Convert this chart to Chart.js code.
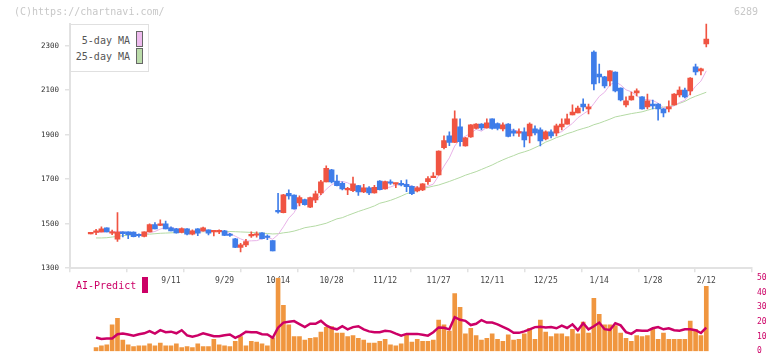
<!DOCTYPE html>
<html><head><meta charset="utf-8">
<script src="https://cdn.jsdelivr.net/npm/chart.js@4"></script>
<style>
html,body{margin:0;padding:0;background:#fff;width:772px;height:361px;overflow:hidden;}
#wrap{position:relative;width:772px;height:361px;}
canvas{position:absolute;left:0;}
#pc{top:0;}
#vc{top:268px;}
.t{position:absolute;font-family:"DejaVu Sans Mono",monospace;white-space:nowrap;line-height:12px;}
</style></head>
<body><div id="wrap">
<canvas id="pc" width="772" height="290"></canvas>
<canvas id="vc" width="772" height="93"></canvas>
<div class="t" style="left:14px;top:6px;font-size:10px;color:#c8c8c8">(C)https://chartnavi.com/</div>
<div class="t" style="left:734px;top:6px;font-size:10px;color:#c8c8c8">6289</div>
<div style="position:absolute;left:70px;top:24px;width:77px;height:46px;border:1px solid #e0e0e0;background:#fff;"></div>
<div class="t" style="right:642px;top:35px;font-size:10px;color:#555;text-align:right">5-day MA</div>
<div class="t" style="right:642px;top:51px;font-size:10px;color:#555;text-align:right">25-day MA</div>
<div style="position:absolute;left:136px;top:31px;width:5px;height:14px;border:1px solid #666;background:#eebbee"></div>
<div style="position:absolute;left:136px;top:48px;width:5px;height:14px;border:1px solid #666;background:#bbdcaa"></div>
<div class="t" style="left:76px;top:280px;font-size:10px;color:#cc0066">AI-Predict</div>
<div style="position:absolute;left:142px;top:277px;width:6px;height:16px;background:#cc0066"></div>
</div>
<script>
const dateLabels = ['9/11','9/29','10/14','10/28','11/12','11/27','12/11','12/25','1/14','1/28','2/12'];
const dateIndex  = [15,25,35,45,55,65,75,85,95,105,115];
const yTicks = [1300,1500,1700,1900,2100,2300];
const volTicks = [0,10,20,30,40,50];

const open = [1454,1461,1463,1481,1457,1430,1463,1463,1462,1452,
1443,1463,1496,1492,1500,1481,1477,1461,1477,1453,
1477,1468,1472,1463,1463,1468,1451,1432,1393,1405,
1445,1448,1459,1442,1424,1557,1550,1637,1629,1593,
1608,1574,1607,1638,1688,1742,1692,1682,1652,1649,
1671,1643,1661,1638,1692,1656,1688,1678,1682,1677,
1668,1647,1652,1689,1707,1719,1842,1895,1865,1935,
1850,1890,1928,1948,1931,1971,1950,1926,1948,1917,
1907,1913,1895,1926,1922,1881,1913,1908,1935,1948,
1989,1998,2038,2016,2272,2173,2160,2142,2182,2110,
2034,2056,2088,2070,2025,2038,2038,2016,2016,2034,
2079,2101,2097,2205,2187,2308];
const high = [1455,1475,1486,1481,1471,1550,1463,1463,1463,1455,
1463,1500,1505,1517,1512,1486,1479,1481,1478,1472,
1478,1485,1473,1468,1472,1470,1457,1434,1412,1430,
1463,1463,1460,1450,1424,1637,1632,1652,1630,1625,
1611,1620,1647,1695,1760,1745,1719,1688,1664,1710,
1673,1677,1667,1673,1694,1692,1697,1683,1694,1697,
1670,1667,1680,1712,1730,1828,1895,1913,2007,1971,
1888,1946,1950,1950,1971,1972,1954,1953,1950,1925,
1926,1931,1953,1940,1931,1917,1922,1948,1971,1993,
2034,2029,2061,2038,2277,2218,2162,2188,2183,2111,
2070,2092,2106,2071,2083,2056,2040,2017,2052,2085,
2115,2110,2157,2218,2200,2398];
const low = [1454,1451,1463,1463,1451,1420,1441,1433,1441,1440,
1441,1463,1477,1491,1477,1468,1457,1459,1450,1450,
1446,1466,1450,1445,1455,1446,1443,1392,1373,1397,
1438,1440,1432,1428,1378,1547,1548,1610,1565,1580,
1583,1572,1595,1631,1688,1683,1670,1652,1630,1644,
1627,1640,1630,1637,1652,1655,1677,1662,1670,1644,
1631,1643,1649,1677,1707,1718,1836,1851,1864,1848,
1848,1888,1926,1922,1929,1925,1922,1917,1890,1895,
1892,1845,1863,1899,1850,1877,1886,1895,1922,1948,
1989,1998,2007,1993,2101,2133,2110,2119,2092,2052,
2025,2055,2074,2015,2016,2016,1966,1980,2002,2033,
2070,2065,2079,2169,2169,2295];
const close = [1455,1468,1477,1463,1460,1462,1455,1451,1442,1446,
1463,1496,1477,1500,1477,1468,1459,1478,1453,1468,
1457,1482,1457,1467,1466,1447,1447,1393,1405,1420,
1450,1453,1433,1438,1378,1553,1630,1625,1566,1617,
1586,1617,1634,1688,1749,1688,1671,1656,1655,1679,
1643,1661,1638,1664,1653,1689,1682,1682,1674,1667,
1635,1661,1679,1703,1710,1827,1874,1865,1971,1869,
1886,1944,1948,1931,1954,1928,1928,1944,1892,1907,
1913,1877,1948,1908,1872,1913,1895,1940,1948,1971,
2002,2020,2025,2025,2128,2160,2119,2187,2097,2056,
2052,2074,2097,2016,2052,2029,2016,1998,2025,2083,
2101,2070,2155,2182,2196,2330];
const ma5 = [null,1460,1462,1464,1465,1466,1463,1458,1454,1451,
1451,1460,1465,1476,1483,1484,1476,1476,1467,1465,
1463,1468,1463,1466,1466,1464,1457,1444,1432,1422,
1423,1424,1432,1439,1430,1451,1486,1525,1550,1598,
1605,1602,1604,1628,1655,1675,1686,1690,1684,1670,
1661,1659,1655,1657,1652,1661,1665,1674,1676,1679,
1668,1664,1663,1669,1678,1716,1759,1796,1849,1881,
1893,1907,1924,1916,1933,1941,1938,1937,1929,1920,
1917,1907,1907,1911,1904,1904,1907,1906,1914,1933,
1951,1976,1993,2009,2040,2072,2091,2124,2138,2124,
2102,2093,2075,2059,2058,2054,2042,2022,2024,2030,
2045,2055,2087,2118,2141,2187];
const ma25 = [null,1436,1436,1437,1440,1443,1446,1448,1450,1451,
1452,1453,1455,1457,1458,1459,1460,1461,1462,1463,
1463,1464,1464,1465,1465,1465,1465,1464,1463,1462,
1461,1459,1457,1456,1454,1455,1459,1462,1467,1474,
1482,1486,1490,1496,1502,1512,1522,1527,1537,1546,
1555,1563,1571,1580,1592,1598,1605,1614,1624,1635,
1642,1650,1659,1663,1669,1674,1682,1690,1699,1708,
1718,1726,1734,1744,1754,1764,1776,1787,1797,1806,
1816,1823,1831,1842,1853,1867,1876,1887,1895,1905,
1912,1921,1928,1935,1945,1952,1961,1970,1980,1985,
1990,1995,1999,2003,2010,2017,2021,2024,2027,2033,
2041,2050,2063,2073,2082,2091];
const volume = [null,2.5,3.7,4.4,18,22.4,7.5,4.4,3.1,3.7,
3.7,5,3.7,5.6,3.7,3.7,5,2.5,3.1,2.5,
5,3.1,3.1,8.1,4.4,3.7,3.1,6.8,10,3.7,
6.8,6.2,5,3.7,9.1,49.8,31.3,18,10,10,
7.5,8.7,9.3,13.1,16.2,16.8,12.4,12.4,10,10.6,
8.7,7.5,5.6,5.6,6.8,8.1,4.4,3.7,5,11.2,
6.2,8.1,6.8,6.8,7.5,21.2,18,13.7,39.2,29.9,
11.8,15.6,10.6,7.5,8.7,11.8,8.1,6.8,11.2,7.5,
8.1,11.8,15.6,8.1,21.2,13.1,10,11.8,11.8,10,
14.9,11.8,19.9,12.4,36.1,25.1,18,18,17.4,12.4,
8.7,6.8,10.6,10,10.6,14.9,8.1,12.4,8.1,8.1,
8.1,8.1,20.5,14.9,10.6,44.2];
const aiPredict = [null,9.3,8.3,8.7,8.7,11.6,12,11.4,10.6,11.6,
12.2,13.7,12,14.3,12.9,13.3,12.2,14.3,10.8,9.8,
10.8,12.2,11.2,10.2,10.2,10.8,11.4,9.1,10.8,13.3,
12.9,12.9,11.6,11.4,9.1,16,19.5,20.1,20.5,18.5,
16.4,18.7,18.7,20.7,17.6,15.8,14.9,17,14.9,16.4,
17,14.9,13.5,12.9,12.9,13.9,13.5,12,10.6,11.8,
11.8,11.8,11.2,10.6,12.9,16.2,16,14.9,23.2,21.4,
20.7,17.8,18.7,21.2,19.5,19.5,18.3,16.6,14.9,12.5,
12.5,13.5,14.9,16.4,16.6,16.2,16.4,15.6,17.4,15.8,
18.3,14.3,19.1,14.9,17,19.5,15,14.5,19.1,17.6,
13,11.8,14.3,13.9,13.9,15.6,16.4,14.9,15.6,14.3,
13.9,14.9,14.9,14.3,12.4,16];

const UP = '#f05442', DOWN = '#3f7de9';
const X_MIN = -3.87, X_MAX = 123.54;
const idx = close.map((_, i) => i);
const col = i => (close[i] >= open[i] ? UP : DOWN);
const monoFont = "'DejaVu Sans Mono', monospace";

new Chart(document.getElementById('pc'), {
  type: 'bar',
  data: { datasets: [
    { type: 'bar', label: 'body', order: 0, grouped: false, barThickness: 5, minBarLength: 1.5,
      data: idx.map(i => ({ x: i, y: [Math.min(open[i], close[i]), Math.max(open[i], close[i])] })),
      backgroundColor: c => col(c.dataIndex) },
    { type: 'bar', label: 'wick', order: 1, grouped: false, barThickness: 1,
      data: idx.map(i => ({ x: i, y: [low[i], high[i]] })),
      backgroundColor: c => col(c.dataIndex) },
    { type: 'line', label: '5-day MA', order: 2, borderColor: '#e8b2e8', borderWidth: 1, pointRadius: 0,
      data: idx.map(i => ({ x: i, y: ma5[i] })) },
    { type: 'line', label: '25-day MA', order: 3, borderColor: '#b4daa4', borderWidth: 1, pointRadius: 0,
      data: idx.map(i => ({ x: i, y: ma25[i] })) }
  ]},
  options: {
    responsive: false, animation: false, devicePixelRatio: 1,
    layout: { padding: { left: 0, right: 20, top: 23.5, bottom: 0 } },
    plugins: { legend: { display: false }, tooltip: { enabled: false } },
    scales: {
      x: { type: 'linear', min: X_MIN, max: X_MAX, offset: false, weight: 1,
        grid: { display: false, drawTicks: false }, border: { display: false },
        afterBuildTicks: s => { s.ticks = dateIndex.map(v => ({ value: v })); },
        afterFit: s => { s.height = 21.8; },
        ticks: { autoSkip: false, maxRotation: 0, padding: 8, color: '#444',
          font: { family: monoFont, size: 8 },
          callback: v => dateLabels[dateIndex.indexOf(v)] } },
      xg: { type: 'linear', position: 'bottom', min: 0, max: 11, weight: 0,
        grid: { drawOnChartArea: false, tickLength: 4, color: '#e2e2e2', lineWidth: 1.5 },
        border: { color: '#e2e2e2', width: 2 },
        ticks: { stepSize: 1, display: false },
        afterFit: s => { s.height = 0; } },
      y: { type: 'linear', position: 'left', min: 1300, max: 2400,
        afterBuildTicks: s => { s.ticks = yTicks.map(v => ({ value: v })); },
        afterFit: s => { s.width = 70; },
        grid: { drawOnChartArea: false, tickLength: 5, color: '#e2e2e2', lineWidth: 1.5 },
        border: { color: '#e2e2e2', width: 2 },
        ticks: { padding: 6, color: '#333', font: { family: monoFont, size: 7.5 },
          callback: v => String(v) } }
    }
  }
});

new Chart(document.getElementById('vc'), {
  type: 'bar',
  data: { datasets: [
    { type: 'line', label: 'AI-Predict', order: 0, borderColor: '#cc0066', borderWidth: 2.5, pointRadius: 0,
      data: idx.map(i => ({ x: i, y: aiPredict[i] })) },
    { type: 'bar', label: 'volume', order: 1, barThickness: 4, backgroundColor: '#f0963f',
      data: idx.map(i => ({ x: i, y: volume[i] })) }
  ]},
  options: {
    responsive: false, animation: false, devicePixelRatio: 1,
    layout: { padding: { left: 70, right: 0, top: 9.7, bottom: 2.7 } },
    plugins: { legend: { display: false }, tooltip: { enabled: false } },
    scales: {
      x: { type: 'linear', min: X_MIN, max: X_MAX, offset: false, display: false },
      y: { type: 'linear', position: 'right', min: 0, max: 50,
        afterBuildTicks: s => { s.ticks = volTicks.map(v => ({ value: v })); },
        afterFit: s => { s.width = 20; },
        grid: { display: false, drawTicks: false }, border: { display: false },
        ticks: { padding: 5, color: '#cc0066', font: { family: monoFont, size: 8 } } }
    }
  }
});
</script>
</body></html>
